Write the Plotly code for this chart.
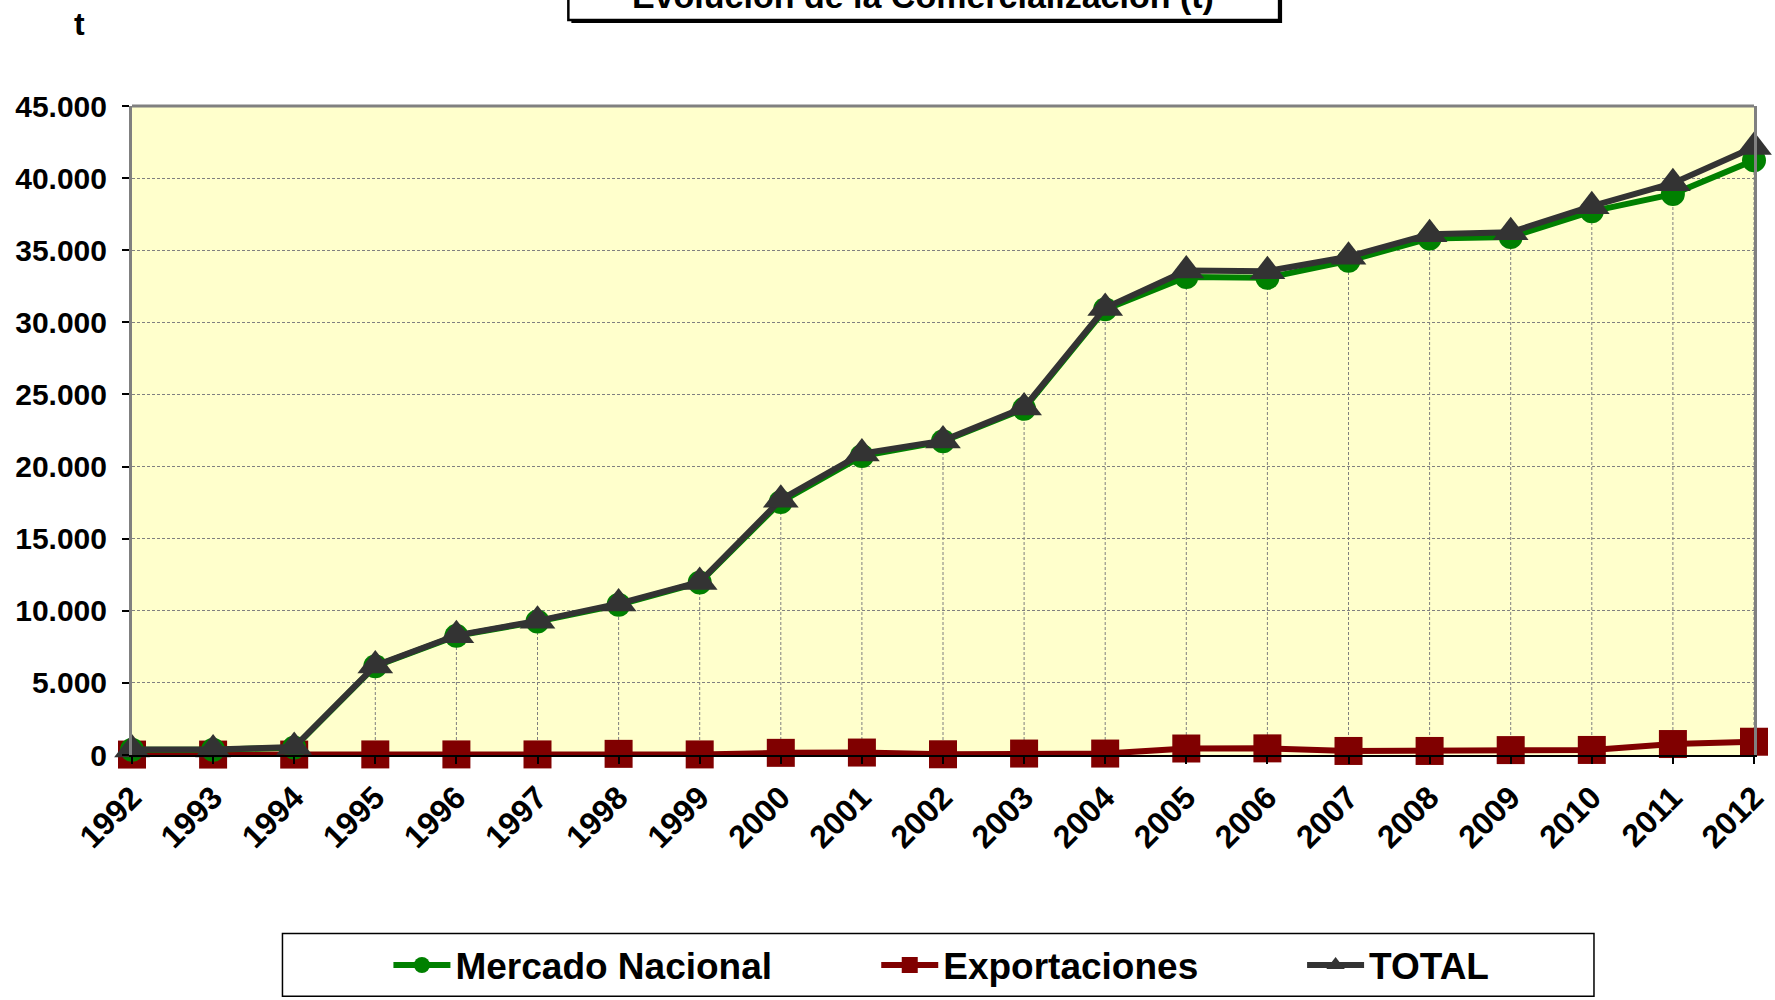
import plotly.graph_objects as go

years = list(range(1992, 2013))
year_labels = [str(y) for y in years]
mercado = [360, 360, 520, 6160, 8260, 9260, 10420, 11960, 17550, 20730, 21750,
           24000, 30900, 33150, 33090, 34270, 35820, 35910, 37700, 38890, 41230]
export = [30, 30, 30, 40, 40, 40, 80, 40, 150, 170, 50,
          100, 100, 450, 460, 280, 280, 340, 350, 760, 920]
total = [390, 390, 550, 6200, 8300, 9300, 10500, 12000, 17700, 20900, 21800,
         24100, 31000, 33600, 33550, 34550, 36100, 36250, 38050, 39650, 42150]
y_ticks = [0, 5000, 10000, 15000, 20000, 25000, 30000, 35000, 40000, 45000]

# figure canvas (slightly larger than 1775x1000 to compensate page capture scaling)
W, H = 1782, 1009
SX, SY = W / 1775, H / 1000

# layout positions in reference pixels
L_ref, R_ref, T_ref, B_ref = 131, 1754, 105, 755
L = round(L_ref * SX)
R = W - round(R_ref * SX)
T = round(T_ref * SY)
B = H - round(B_ref * SY)
PW, PH = W - L - R, H - T - B


def px(x):
    return (x * SX - L) / PW


def py(y):
    return (H - B - y * SY) / PH


FONT = "Liberation Sans"
BOLD = dict(family=FONT, color="black", weight="bold")
fig = go.Figure()

# drop lines from each total point down to the axis
dx, dy = [], []
for yr, v in zip(years, total):
    dx += [yr, yr, None]
    dy += [0, v, None]
fig.add_trace(go.Scatter(x=dx, y=dy, mode="lines", showlegend=False, hoverinfo="skip",
                         line=dict(color="#7f7f7f", width=1, dash="3px,2px")))

fig.add_trace(go.Scatter(x=years, y=export, name="Exportaciones", mode="lines+markers",
                         line=dict(color="#800000", width=6),
                         marker=dict(symbol="square", size=28, color="#800000"),
                         cliponaxis=False, legend="legend2"))
fig.add_trace(go.Scatter(x=years, y=mercado, name="Mercado Nacional", mode="lines+markers",
                         line=dict(color="#008000", width=6),
                         marker=dict(symbol="circle", size=24, color="#008000"),
                         cliponaxis=False, legend="legend"))
fig.add_trace(go.Scatter(x=years, y=total, name="TOTAL", mode="lines+markers",
                         line=dict(color="#333333", width=6),
                         marker=dict(symbol="triangle-up", size=31, color="#333333"),
                         cliponaxis=False, legend="legend3"))

leg_common = dict(orientation="h", yanchor="middle", xanchor="left", y=py(966),
                  bgcolor="rgba(0,0,0,0)", borderwidth=0, itemwidth=57,
                  font=dict(size=37, **BOLD))

fig.update_layout(
    width=W, height=H,
    margin=dict(l=L, r=R, t=T, b=B, pad=0),
    paper_bgcolor="white", plot_bgcolor="#FFFFCC",
    separators=",.",
    font=dict(family=FONT, color="black"),
    legend=dict(x=px(388), **leg_common),
    legend2=dict(x=px(876), **leg_common),
    legend3=dict(x=px(1302), **leg_common),
    xaxis=dict(range=[1992, 2012], tickvals=years, ticktext=year_labels, tickangle=-45,
               tickfont=dict(size=32, **BOLD),
               ticks="outside", ticklen=7, tickwidth=2, tickcolor="black",
               ticklabelstandoff=2,
               showline=True, linecolor="black", linewidth=2,
               showgrid=False, zeroline=False),
    yaxis=dict(range=[0, 45000], tickvals=y_ticks, tickformat=",d",
               tickfont=dict(size=30, **BOLD),
               ticks="outside", ticklen=7, tickwidth=2, tickcolor="black",
               ticklabelstandoff=9,
               showline=True, mirror=True, linecolor="#808080", linewidth=3,
               showgrid=True, gridcolor="#808080", gridwidth=1, griddash="3px,2px",
               zeroline=False),
    shapes=[
        dict(type="line", xref="paper", yref="paper", x0=0, x1=1, y0=1, y1=1,
             line=dict(color="#808080", width=3), layer="above"),
        # legend box
        dict(type="rect", xref="paper", yref="paper", x0=px(282), x1=px(1594),
             y0=py(934), y1=py(997), line=dict(color="black", width=1.5),
             fillcolor="white", layer="below"),
        # title box shadow + box
        dict(type="rect", xref="paper", yref="paper", x0=px(571), x1=px(1282),
             y0=py(22), y1=py(-40), line=dict(color="black", width=0),
             fillcolor="black", layer="below"),
        dict(type="rect", xref="paper", yref="paper", x0=px(568), x1=px(1279),
             y0=py(19), y1=py(-40), line=dict(color="black", width=2.5),
             fillcolor="white", layer="below"),
    ],
    annotations=[
        dict(text="Evolución de la Comercialización (t)", xref="paper", yref="paper",
             x=px(923), y=py(16), xanchor="center", yanchor="bottom", showarrow=False,
             font=dict(size=34, **BOLD)),
        dict(text="t", xref="paper", yref="paper", x=px(79), y=py(23),
             xanchor="center", yanchor="middle", showarrow=False,
             font=dict(size=32, **BOLD)),
    ],
)

fig.write_html(
    "out.html",
    config={"displayModeBar": False},
    post_script=("document.documentElement.style.margin='0';"
                 "document.documentElement.style.overflow='hidden';"
                 "document.body.style.margin='0';"
                 "document.body.style.overflow='hidden';"),
)
